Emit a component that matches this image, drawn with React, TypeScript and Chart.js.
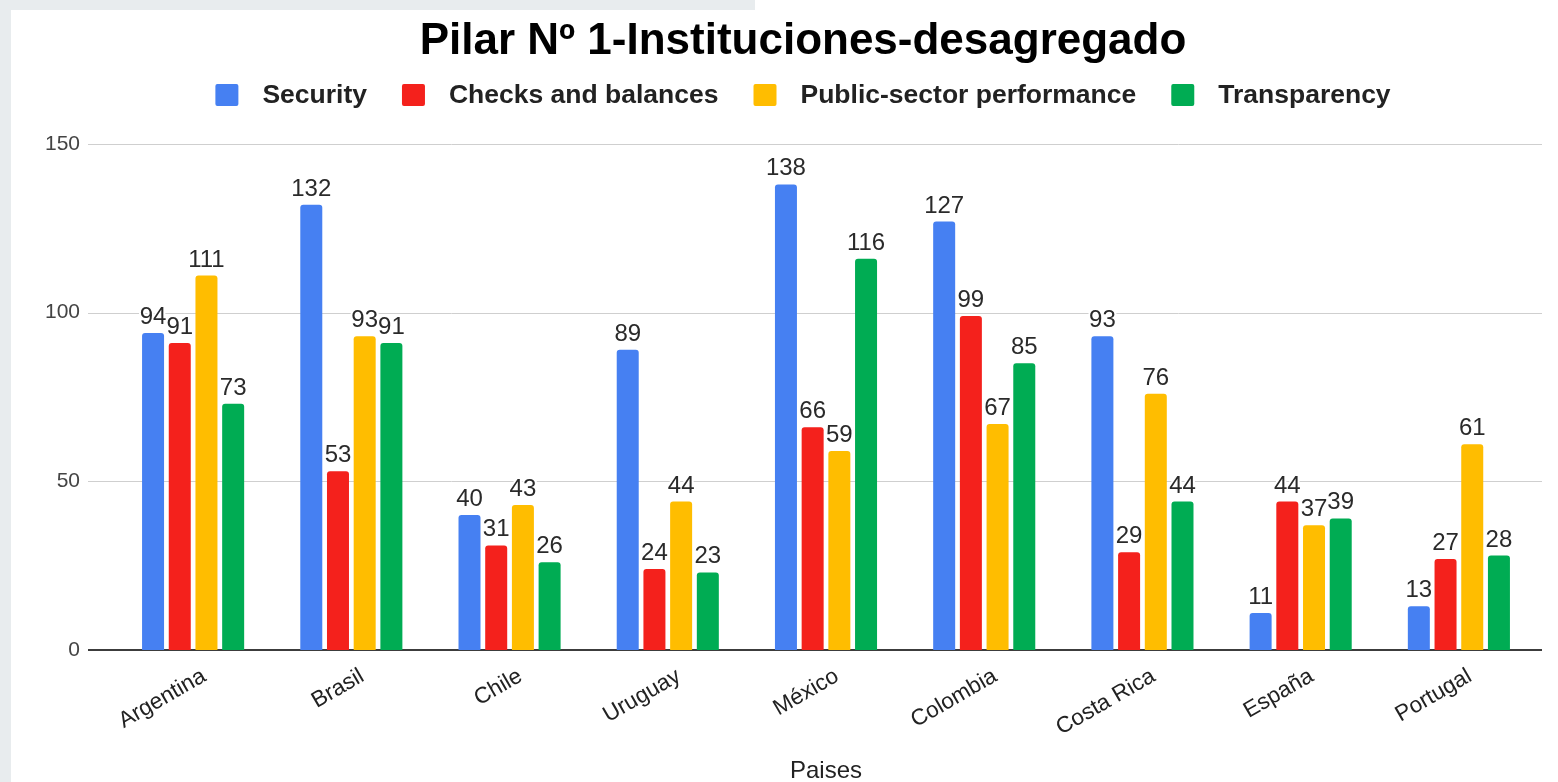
import React, { useEffect, useRef } from 'react';
import { Chart, registerables } from 'chart.js';

Chart.register(...registerables);

const TITLE = 'Pilar Nº 1-Instituciones-desagregado';
const X_TITLE = 'Paises';

const categories = ['Argentina', 'Brasil', 'Chile', 'Uruguay', 'México', 'Colombia', 'Costa Rica', 'España', 'Portugal'];
const security = [94, 132, 40, 89, 138, 127, 93, 11, 13];
const checksAndBalances = [91, 53, 31, 24, 66, 99, 29, 44, 27];
const publicSectorPerformance = [111, 93, 43, 44, 59, 67, 76, 37, 61];
const transparency = [73, 91, 26, 23, 116, 85, 44, 39, 28];
const seriesNames = ['Security', 'Checks and balances', 'Public-sector performance', 'Transparency'];
const seriesColors = ['#4680F2', '#F4211C', '#FFBD00', '#00AC53'];
const yMin = 0;
const yMax = 150;
const yStep = 50;

const FONT = "'Liberation Sans', Arial, Helvetica, sans-serif";

const backgroundPlugin = {
  id: 'pageBackground',
  beforeDraw(chart: any) {
    const { ctx, width, height } = chart;
    ctx.save();
    ctx.fillStyle = '#e8ecee';
    ctx.fillRect(0, 0, width, height);
    ctx.fillStyle = '#ffffff';
    ctx.fillRect(11, 10, width - 11, height - 10);
    ctx.fillRect(755, 0, width - 755, 10);
    ctx.restore();
  },
};

const gridPlugin = {
  id: 'extendedGrid',
  beforeDatasetsDraw(chart: any) {
    const { ctx, chartArea, scales } = chart;
    const y = scales.y;
    ctx.save();
    y.ticks.forEach((t: any) => {
      const isZero = t.value === 0;
      const py = Math.round(y.getPixelForValue(t.value)) + (isZero ? 0 : 0.5);
      ctx.strokeStyle = isZero ? '#3c3c3c' : '#cfcfcf';
      ctx.lineWidth = isZero ? 2 : 1;
      ctx.beginPath();
      ctx.moveTo(chartArea.left - 26, py);
      ctx.lineTo(chartArea.right + 4, py);
      ctx.stroke();
    });
    ctx.restore();
  },
};

const headerPlugin = {
  id: 'headerAndLegend',
  afterDraw(chart: any) {
    const ctx = chart.ctx;
    const cx = 803;
    ctx.save();
    ctx.fillStyle = '#000000';
    ctx.font = `bold 44px ${FONT}`;
    ctx.textAlign = 'center';
    ctx.textBaseline = 'alphabetic';
    ctx.fillText(TITLE, cx, 54);

    ctx.font = `bold 26.5px ${FONT}`;
    const box = 23;
    const gapText = 24;
    const gapItem = 35;
    const widths = seriesNames.map((n) => ctx.measureText(n).width);
    const total = widths.reduce((a, w) => a + box + gapText + w, 0) + gapItem * (seriesNames.length - 1);
    let x = cx - total / 2;
    const cy = 95;
    seriesNames.forEach((name, i) => {
      ctx.fillStyle = seriesColors[i];
      ctx.beginPath();
      (ctx as any).roundRect(x, cy - 11, box, 22, 2);
      ctx.fill();
      ctx.fillStyle = '#222222';
      ctx.textAlign = 'left';
      ctx.textBaseline = 'middle';
      ctx.fillText(name, x + box + gapText, cy + 1);
      x += box + gapText + widths[i] + gapItem;
    });
    ctx.restore();
  },
};

const valueLabelPlugin = {
  id: 'valueLabels',
  afterDatasetsDraw(chart: any) {
    const ctx = chart.ctx;
    ctx.save();
    ctx.font = `24px ${FONT}`;
    ctx.textAlign = 'center';
    ctx.textBaseline = 'alphabetic';
    ctx.lineJoin = 'round';
    const h = 17;
    const n = chart.data.labels.length;
    for (let i = 0; i < n; i++) {
      const placed: any[] = [];
      chart.data.datasets.forEach((ds: any, d: number) => {
        const el = chart.getDatasetMeta(d).data[i];
        const txt = String(ds.data[i]);
        const w = ctx.measureText(txt).width;
        let base = el.y - 9;
        const x0 = el.x - w / 2;
        const x1 = el.x + w / 2;
        let moved = true;
        let guard = 0;
        while (moved && guard < 10) {
          moved = false;
          guard++;
          for (const p of placed) {
            if (x0 < p.x1 - 6 && x1 > p.x0 + 6 && base > p.top && base - h < p.base) {
              base = p.top - 2;
              moved = true;
            }
          }
        }
        placed.push({ x0, x1, base, top: base - h });
        ctx.strokeStyle = '#ffffff';
        ctx.lineWidth = 4;
        ctx.strokeText(txt, el.x, base);
        ctx.fillStyle = '#2a2a2a';
        ctx.fillText(txt, el.x, base);
      });
    }
    ctx.restore();
  },
};

export default function App() {
  const canvasRef = useRef<HTMLCanvasElement | null>(null);

  useEffect(() => {
    document.body.style.margin = '0';
    document.body.style.overflow = 'hidden';
    const canvas = canvasRef.current;
    if (!canvas) return;
    const seriesData = [security, checksAndBalances, publicSectorPerformance, transparency];
    const chart = new Chart(canvas, {
      type: 'bar',
      data: {
        labels: categories,
        datasets: seriesNames.map((name, i) => ({
          label: name,
          data: seriesData[i],
          backgroundColor: seriesColors[i],
          borderRadius: 3,
          borderSkipped: 'start',
          categoryPercentage: 0.675,
          barPercentage: 0.824,
        })),
      },
      options: {
        animation: false,
        responsive: false,
        layout: { padding: { top: 144, right: 20, left: 0, bottom: 0 } },
        plugins: {
          legend: { display: false },
          title: { display: false },
          tooltip: { enabled: false },
        },
        scales: {
          x: {
            type: 'category',
            offset: true,
            grid: { display: false, drawTicks: false },
            border: { display: false },
            ticks: {
              autoSkip: false,
              minRotation: 30,
              maxRotation: 30,
              labelOffset: 11,
              padding: 13,
              color: '#222222',
              font: { family: FONT, size: 22.5 },
            },
            title: {
              display: true,
              text: X_TITLE,
              color: '#222222',
              font: { family: FONT, size: 24 },
              padding: { top: 0, bottom: -4 },
            },
            afterFit: (s: any) => {
              s.height = 132;
            },
          },
          y: {
            min: yMin,
            max: yMax,
            grid: { display: false, drawTicks: false },
            border: { display: false },
            ticks: {
              stepSize: yStep,
              padding: 34,
              color: '#444444',
              font: { family: FONT, size: 21 },
            },
            afterFit: (s: any) => {
              s.width = 114;
            },
          },
        },
      },
      plugins: [backgroundPlugin, gridPlugin, valueLabelPlugin, headerPlugin],
    });
    return () => chart.destroy();
  }, []);

  return <canvas ref={canvasRef} width={1558} height={782} style={{ display: 'block' }} />;
}
